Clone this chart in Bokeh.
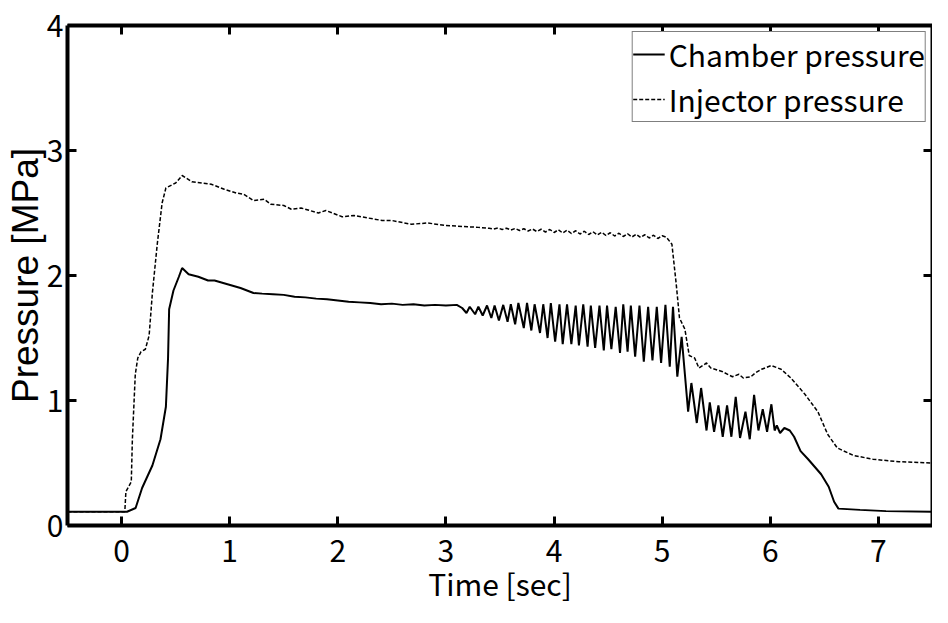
from bokeh.plotting import figure
from bokeh.models import Range1d, LinearAxis, Legend, LegendItem, FixedTicker, CustomJSTickFormatter
from bokeh.embed import file_html
from bokeh.resources import INLINE

# ---- data ----
chamber_t = [-0.5, 0.05, 0.13, 0.19, 0.285, 0.36, 0.41, 0.43, 0.44, 0.48, 0.53, 0.56, 0.62, 0.71, 0.80, 0.86,
             0.98, 1.10, 1.22, 1.30, 1.40, 1.50, 1.60, 1.70, 1.80, 1.90, 2.00, 2.10, 2.20, 2.30, 2.40, 2.50,
             2.60, 2.70, 2.80, 2.90, 3.00, 3.10, 3.15,
             3.19, 3.22, 3.27, 3.30, 3.34, 3.38, 3.42, 3.45, 3.49, 3.53, 3.57, 3.60, 3.64, 3.67, 3.72, 3.75,
             3.79, 3.82, 3.87, 3.90, 3.94, 3.97, 4.01,
             4.05, 4.08, 4.12, 4.16, 4.20, 4.23, 4.27, 4.31, 4.34, 4.38, 4.42, 4.46, 4.49, 4.53, 4.57, 4.61,
             4.64, 4.68, 4.71, 4.75, 4.79, 4.83, 4.87, 4.91, 4.95, 4.99, 5.03, 5.07, 5.10, 5.14, 5.18, 5.21,
             5.24, 5.27, 5.32, 5.36, 5.41, 5.44, 5.48, 5.52, 5.56, 5.60, 5.64, 5.68, 5.72, 5.77, 5.81, 5.85,
             5.89, 5.93, 5.97, 6.01, 6.04, 6.06, 6.09, 6.13, 6.18, 6.22, 6.28, 6.35, 6.41, 6.47, 6.54, 6.59,
             6.63, 6.83, 7.07, 7.50]
chamber_p = [0.11, 0.11, 0.14, 0.30, 0.48, 0.69, 0.95, 1.34, 1.73, 1.88, 1.99, 2.06, 2.01, 1.99, 1.96, 1.96,
             1.93, 1.90, 1.86, 1.855, 1.85, 1.845, 1.83, 1.825, 1.815, 1.81, 1.80, 1.79, 1.785, 1.78, 1.77, 1.775,
             1.765, 1.77, 1.76, 1.765, 1.76, 1.765, 1.74,
             1.70, 1.75, 1.69, 1.75, 1.68, 1.76, 1.66, 1.76, 1.64, 1.765, 1.63, 1.77, 1.61, 1.78, 1.58, 1.78,
             1.56, 1.77, 1.54, 1.77, 1.50, 1.78, 1.47,
             1.77, 1.45, 1.77, 1.45, 1.76, 1.44, 1.77, 1.43, 1.76, 1.42, 1.76, 1.40, 1.76, 1.41, 1.75, 1.38,
             1.77, 1.39, 1.76, 1.35, 1.76, 1.31, 1.75, 1.32, 1.75, 1.30, 1.765, 1.27, 1.75, 1.19, 1.51, 1.21,
             0.91, 1.14, 0.82, 1.10, 0.76, 0.985, 0.75, 0.96, 0.71, 0.96, 0.71, 1.03, 0.70, 0.91, 0.69, 1.045,
             0.76, 0.93, 0.75, 0.97, 0.76, 0.80, 0.74, 0.78, 0.76, 0.71, 0.595, 0.53, 0.47, 0.41, 0.31, 0.19,
             0.135, 0.125, 0.115, 0.11]

injector_t = [-0.5, 0.03, 0.04, 0.09, 0.10, 0.127, 0.15, 0.18, 0.22, 0.255, 0.285, 0.33, 0.375, 0.41, 0.50, 0.56,
              0.65, 0.83, 0.95, 1.06, 1.13, 1.22, 1.32, 1.38, 1.50, 1.57, 1.66, 1.82, 1.89, 2.04, 2.15, 2.28,
              2.41, 2.50, 2.68, 2.83, 3.00, 3.10, 3.20, 3.30,
              3.40, 3.44, 3.48, 3.52, 3.56, 3.60, 3.64, 3.68, 3.72, 3.76, 3.80, 3.84, 3.88, 3.92, 3.96, 4.00,
              4.04, 4.08, 4.12, 4.16, 4.20, 4.24, 4.28, 4.32, 4.36, 4.40, 4.44, 4.48, 4.52, 4.56, 4.60, 4.64,
              4.68, 4.72, 4.76, 4.80, 4.84, 4.88, 4.92, 4.96, 5.00, 5.04,
              5.09, 5.13, 5.16, 5.21, 5.25, 5.30, 5.34, 5.41, 5.45, 5.56, 5.65, 5.71, 5.75, 5.82, 5.86, 5.92,
              6.01, 6.10, 6.19, 6.32, 6.44, 6.53, 6.62, 6.77, 6.95, 7.19, 7.50]
injector_p = [0.11, 0.11, 0.27, 0.35, 0.69, 1.21, 1.34, 1.39, 1.41, 1.52, 1.86, 2.25, 2.58, 2.70, 2.74, 2.80,
              2.75, 2.73, 2.69, 2.66, 2.65, 2.60, 2.61, 2.57, 2.56, 2.53, 2.54, 2.50, 2.52, 2.47, 2.48, 2.46,
              2.44, 2.44, 2.41, 2.42, 2.40, 2.395, 2.39, 2.385,
              2.378, 2.372, 2.380, 2.368, 2.378, 2.364, 2.376, 2.360, 2.374, 2.356, 2.372, 2.352, 2.370, 2.348, 2.368, 2.344,
              2.366, 2.340, 2.362, 2.336, 2.358, 2.332, 2.354, 2.328, 2.350, 2.324, 2.346, 2.320, 2.342, 2.316, 2.338, 2.312,
              2.334, 2.308, 2.330, 2.304, 2.326, 2.300, 2.322, 2.296, 2.318, 2.305,
              2.25, 1.93, 1.66, 1.57, 1.36, 1.34, 1.26, 1.30, 1.26, 1.23, 1.19, 1.21, 1.18, 1.19, 1.22, 1.25,
              1.28, 1.25, 1.18, 1.05, 0.91, 0.73, 0.62, 0.56, 0.53, 0.51, 0.50]

x_ticks = [0, 1, 2, 3, 4, 5, 6, 7]
y_ticks = [0, 1, 2, 3, 4]
series_labels = ["Chamber pressure", "Injector pressure"]
x_label = "Time [sec]"
y_label = "Pressure [MPa]"

NARROW = "'Noto Sans CJK JP'"

p = figure(width=932, height=607, x_range=Range1d(-0.5, 7.5), y_range=Range1d(0, 4),
           output_backend="svg", toolbar_location=None,
           min_border_left=67, min_border_right=0, min_border_top=25, min_border_bottom=77)
p.xgrid.visible = False
p.ygrid.visible = False
p.outline_line_color = None
p.background_fill_color = "white"
p.border_fill_color = "white"

r1 = p.line(chamber_t, chamber_p, line_color="black", line_width=2)
r2 = p.line(injector_t, injector_p, line_color="black", line_width=1.5, line_dash="4 2")

def style(ax, ticks, labels=True):
    ax.ticker = FixedTicker(ticks=ticks)
    ax.axis_line_width = 4
    ax.axis_line_color = "black"
    ax.major_tick_in = 9
    ax.major_tick_out = 0
    ax.major_tick_line_width = 3
    ax.minor_tick_line_color = None
    if labels:
        ax.major_label_text_font = NARROW
        ax.major_label_text_font_size = "30px"
        ax.major_label_text_color = "black"
        ax.major_label_standoff = 4
    else:
        ax.formatter = CustomJSTickFormatter(code="return ''")
        ax.major_label_text_font_size = "1px"
        ax.major_label_standoff = 0

xa = p.xaxis[0]
ya = p.yaxis[0]
style(xa, x_ticks)
style(ya, y_ticks)
xa.major_label_standoff = 14
xa.axis_label = x_label
xa.axis_label_text_font = NARROW
xa.axis_label_text_font_size = "30px"
xa.axis_label_text_font_style = "normal"
xa.axis_label_text_color = "black"
xa.axis_label_standoff = -4
ya.axis_label = y_label
ya.axis_label_text_font = "Liberation Sans"
ya.axis_label_text_font_size = "37px"
ya.axis_label_text_font_style = "normal"
ya.axis_label_text_color = "black"
ya.axis_label_standoff = -2

top = LinearAxis()
style(top, x_ticks, labels=False)
p.add_layout(top, "above")
right = LinearAxis()
style(right, y_ticks, labels=False)
p.add_layout(right, "right")

legend = Legend(items=[LegendItem(label=series_labels[0], renderers=[r1]),
                       LegendItem(label=series_labels[1], renderers=[r2])],
                location="top_right")
legend.label_text_font = NARROW
legend.label_text_font_size = "30px"
legend.label_text_color = "black"
legend.label_standoff = 4
legend.glyph_width = 32
legend.glyph_height = 40
legend.label_height = 40
legend.spacing = 1
legend.padding = 0
legend.margin = 6
legend.border_line_color = "black"
legend.border_line_width = 1.5
legend.background_fill_alpha = 1
p.add_layout(legend)

open("out.html", "w").write(file_html(p, INLINE))
